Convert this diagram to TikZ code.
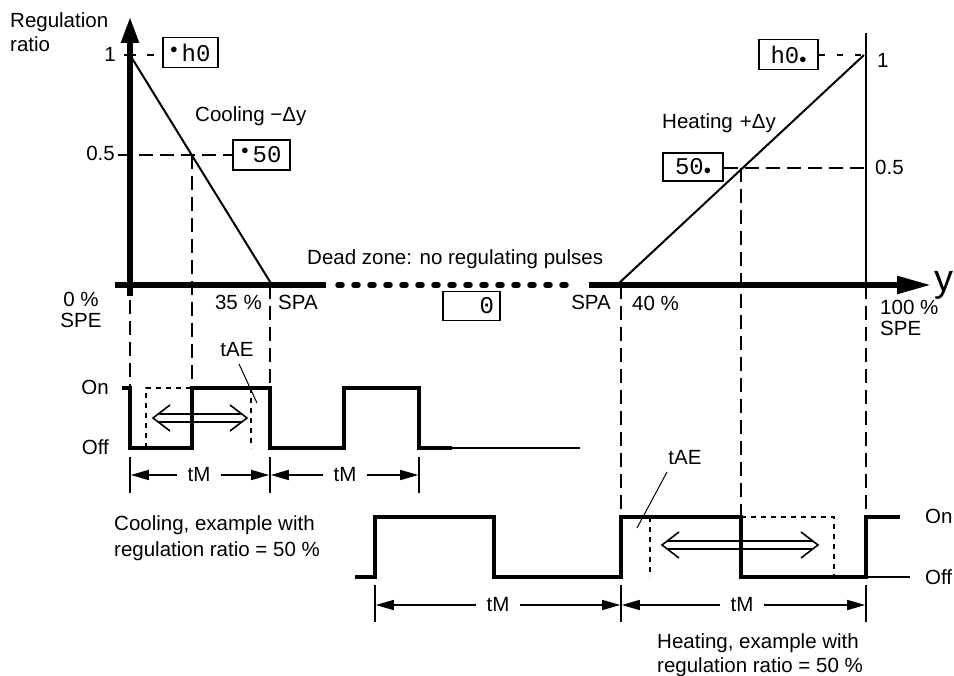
\documentclass[tikz,border=0pt]{standalone}
\usepackage{fontspec}
\setmainfont{Liberation Sans}
\newfontfamily\monofam{Liberation Mono}
\usetikzlibrary{arrows.meta}
\newcommand\bul{{\fontsize{14}{14}\selectfont$\bullet$}}
\begin{document}
\begin{tikzpicture}[x=1pt,y=-1pt,
  lbl/.style={font=\fontsize{20.5}{24}\selectfont, inner sep=0pt},
  mbox/.style={draw, line width=1.6pt, font=\fontsize{24}{24}\monofam, inner sep=0pt, minimum height=30pt},
  axl/.style={line width=5.5pt},
  thk/.style={line width=4.5pt, line join=miter},
  thn/.style={line width=1.6pt},
  med/.style={line width=2pt},
  dsh/.style={line width=2pt, dash pattern=on 14pt off 7pt},
  dotl/.style={line width=1.8pt, dash pattern=on 5pt off 5pt},
  dim/.style={line width=1.5pt, -{Triangle[length=18pt,width=10pt]}},
  tickl/.style={line width=1.5pt},
  lead/.style={line width=1pt},
]
\useasboundingbox (0,0) rectangle (954,676);

% ---------- texts of the top graph
\node[lbl, anchor=base west] (reg) at (10,28) {Regulation};
\node[lbl, anchor=base west] (rat) at (10,52) {ratio};
\node[lbl, anchor=base east] (one1) at (116,62) {1};
\node[lbl, anchor=base east] (half1) at (115,161) {0.5};
\node[lbl, anchor=base west] (cool) at (195,122) {Cooling −Δy};
\node[lbl, anchor=base west] (heat) at (662,129) {Heating\hspace{7pt}+Δy};
\node[lbl, anchor=base west] (one2) at (877,68) {1};
\node[lbl, anchor=base west] (half2) at (875,175) {0.5};
\node[lbl, anchor=base west] (dead) at (307,265) {Dead zone: no regulating pulses};
\node[lbl, anchor=base] (p0) at (81,307) {0 \%};
\node[lbl, anchor=base] (spe1) at (81,328) {SPE};
\node[lbl, anchor=base east] (p35) at (262,310) {35 \%};
\node[lbl, anchor=base west] (spa1) at (278,310) {SPA};
\node[lbl, anchor=base east] (spa2) at (611,310) {SPA};
\node[lbl, anchor=base west] (p40) at (632,311) {40 \%};
\node[lbl, anchor=base west] (p100) at (880,315) {100 \%};
\node[lbl, anchor=base west] (spe2) at (880,336) {SPE};
\node[font=\fontsize{38}{38}\selectfont, inner sep=0pt, anchor=base west] (ylab) at (934,292) {y};

% ---------- boxes
\node[mbox, minimum width=55pt] (bh0l) at (190.5,52.5) {\raisebox{8pt}{\bul}\,h0};
\node[mbox, minimum width=57pt] (b50l) at (261.5,155) {\raisebox{8pt}{\bul}\,50};
\node[mbox, minimum width=59pt] (bh0r) at (788.5,54.5) {h0\bul};
\node[mbox, minimum width=60pt, minimum height=28pt] (b50r) at (693,167) {50\bul};
\node[mbox, minimum width=57pt, minimum height=29pt, text width=45pt, align=right] (b0) at (471.5,306) {0};

% ---------- axes
\draw[axl, -{Triangle[length=26pt,width=17pt]}] (130,296) -- (130,17);
\draw[axl] (115,285) -- (326,285);
\draw[axl, line cap=round, dash pattern=on 4pt off 12pt] (338,285) -- (575,285);
\draw[axl, -{Triangle[length=34pt,width=17pt]}] (589,285) -- (931,285);
\draw[med] (866,33) -- (866,285);

% ---------- characteristic lines
\draw[med] (130,55) -- (272,285);
\draw[med] (617,285) -- (864,55);

% ---------- level lines
\draw[med] (124,55) -- (136,55);
\draw[med] (147,55) -- (154,55);
\draw[dsh] (118,155) -- (b50l.west);
\draw[med, dash pattern=on 6pt off 12pt] (bh0r.east |- 0,55) -- (866,55);
\draw[dsh] (b50r.east |- 0,168) -- (866,168);

% ---------- dashed verticals
\draw[dsh] (130,300) -- (130,388);
\draw[dsh] (192,155) -- (192,388);
\draw[dsh] (270,285) -- (270,388);
\draw[dsh] (621,285) -- (621,517);
\draw[dsh] (741,168) -- (741,517);
\draw[dsh] (866,285) -- (866,517);

% ---------- cooling pulses
\node[lbl, anchor=base east] (on1) at (109,395) {On};
\node[lbl, anchor=base east] (off1) at (109,455) {Off};
\draw[thk] (122,388) -- (130,388) -- (130,448) -- (192,448) -- (192,388) -- (270,388) -- (270,448) -- (344,448) -- (344,388) -- (419,388) -- (419,448) -- (452,448);
\draw[thn] (452,448) -- (580,448);
\draw[dotl] (146,448) -- (146,388) -- (192,388);
\draw[dotl] (251,388) -- (251,448);
\draw[thn, line join=miter] (170,405) -- (153,418) -- (170,431);
\draw[thn, line join=miter] (230,405) -- (247,418) -- (230,431);
\draw[thn] (158,414) -- (242,414);
\draw[thn] (158,422) -- (242,422);
\node[lbl] (tae1) at (237,350) {tAE};
\draw[lead] (239,364) -- (257,403);

\draw[tickl] (130,457) -- (130,493);
\draw[tickl] (270,457) -- (270,493);
\draw[tickl] (419,457) -- (419,493);
\node[lbl] (tm1) at (199,475) {tM};
\node[lbl] (tm2) at (345,475) {tM};
\draw[dim] ([xshift=-10pt]tm1.west) -- (130.8,475);
\draw[dim] ([xshift=10pt]tm1.east) -- (269.2,475);
\draw[dim] ([xshift=-10pt]tm2.west) -- (270.8,475);
\draw[dim] ([xshift=10pt]tm2.east) -- (418.2,475);

\node[lbl, anchor=base west] (ct1) at (114,530) {Cooling, example with};
\node[lbl, anchor=base west] (ct2) at (114,556) {regulation ratio = 50 \%};

% ---------- heating pulses
\node[lbl, anchor=base west] (on2) at (925,523) {On};
\node[lbl, anchor=base west] (off2) at (925,584) {Off};
\draw[thk] (355,577) -- (375,577) -- (375,517) -- (494,517) -- (494,577) -- (621,577) -- (621,517) -- (741,517) -- (741,577) -- (866,577) -- (866,517) -- (900,517);
\draw[thn] (866,577) -- (910,577);
\draw[dotl] (650,517) -- (650,577);
\draw[dotl] (741,517) -- (834,517) -- (834,577);
\draw[thn, line join=miter] (679,532) -- (662,545) -- (679,558);
\draw[thn, line join=miter] (801,532) -- (818,545) -- (801,558);
\draw[thn] (667,541) -- (813,541);
\draw[thn] (667,549) -- (813,549);
\node[lbl] (tae2) at (685,458) {tAE};
\draw[lead] (667,472) -- (637,528);

\draw[tickl] (375,585) -- (375,622);
\draw[tickl] (621,585) -- (621,622);
\draw[tickl] (866,585) -- (866,622);
\node[lbl] (tm3) at (498,605) {tM};
\node[lbl] (tm4) at (742,605) {tM};
\draw[dim] ([xshift=-10pt]tm3.west) -- (375.8,605);
\draw[dim] ([xshift=10pt]tm3.east) -- (620.2,605);
\draw[dim] ([xshift=-10pt]tm4.west) -- (621.8,605);
\draw[dim] ([xshift=10pt]tm4.east) -- (865.2,605);

\node[lbl, anchor=base west] (ht1) at (657,648) {Heating, example with};
\node[lbl, anchor=base west] (ht2) at (657,672) {regulation ratio = 50 \%};
\end{tikzpicture}
\end{document}
